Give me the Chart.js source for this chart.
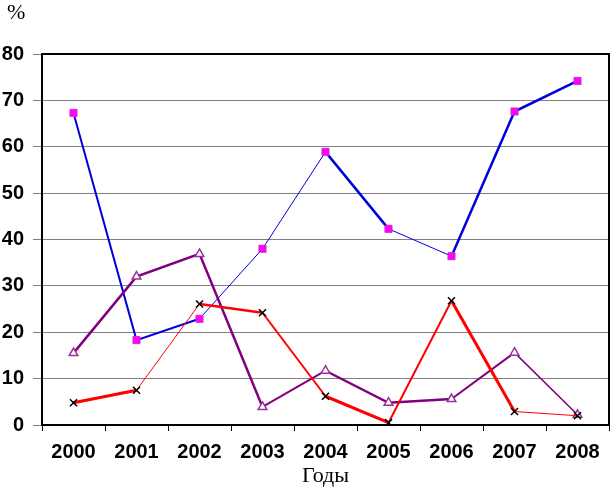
<!DOCTYPE html>
<html>
<head>
<meta charset="utf-8">
<script src="https://cdn.jsdelivr.net/npm/chart.js@4.4.1/dist/chart.umd.min.js"></script>
<style>
  html, body { margin: 0; padding: 0; background: #fff; }
  #wrap { width: 611px; height: 489px; }
</style>
</head>
<body>
<div id="wrap"><canvas id="chart" width="611" height="489"></canvas></div>
<script>
const years = ['2000', '2001', '2002', '2003', '2004', '2005', '2006', '2007', '2008'];
const blueValues = [67.3, 18.3, 22.9, 38, 58.9, 42.3, 36.4, 67.6, 74.2];
const redValues = [4.8, 7.5, 26.1, 24.2, 6.2, 0.5, 26.8, 2.9, 2.0];
const purpleValues = [15.5, 32, 36.9, 3.9, 11.7, 4.8, 5.6, 15.6, 2.2];
const yTicks = [0, 10, 20, 30, 40, 50, 60, 70, 80];

// line widths vary per segment in the original
const blueWidths = [2, 2, 1, 1, 2.5, 1, 2.5, 2.5];
const redWidths = [3, 1, 2.5, 2, 3, 2, 3, 1];
const purpleWidths = [2.5, 2.5, 2.5, 2, 2.5, 2.5, 2, 1.5];

// black box round the plot, and the "%" nudged in from the left edge
const frame = {
    id: 'frame',
    afterLayout(chart) {
        if (chart.titleBlock) chart.titleBlock.left = 7;
    },
    afterDatasetsDraw(chart) {
        const a = chart.chartArea;
        const c = chart.ctx;
        c.save();
        c.strokeStyle = '#000';
        c.lineWidth = 2;
        c.strokeRect(a.left, a.top, a.right - a.left, a.bottom - a.top);
        c.restore();
    }
};

const ctx = document.getElementById('chart').getContext('2d');
const chart = new Chart(ctx, {
    type: 'line',
    data: {
        labels: years,
        datasets: [{
            data: redValues,
            borderColor: '#FF0000',
            pointStyle: 'crossRot',
            pointRadius: 5,
            pointBorderColor: '#000',
            pointBorderWidth: 1.5,
            tension: 0,
            segment: { borderWidth: s => redWidths[s.p0DataIndex] }
        }, {
            data: purpleValues,
            borderColor: '#800080',
            pointStyle: 'triangle',
            pointRadius: 5,
            pointBackgroundColor: '#fff',
            pointBorderColor: '#993399',
            pointBorderWidth: 1.5,
            tension: 0,
            segment: { borderWidth: s => purpleWidths[s.p0DataIndex] }
        }, {
            data: blueValues,
            borderColor: '#0000DD',
            pointStyle: 'rect',
            pointRadius: 5,
            pointBackgroundColor: '#FF00FF',
            pointBorderColor: '#CC33CC',
            pointBorderWidth: 1,
            tension: 0,
            segment: { borderWidth: s => blueWidths[s.p0DataIndex] }
        }]
    },
    options: {
        responsive: false,
        animation: false,
        layout: { autoPadding: false, padding: { left: 0, right: 2, top: 0, bottom: 0 } },
        plugins: {
            legend: { display: false },
            tooltip: { enabled: false },
            title: {
                display: true,
                text: '%',
                align: 'start',
                color: '#000',
                font: { family: 'Liberation Serif, Times New Roman, serif', size: 22, weight: 'normal' },
                padding: { top: 0, bottom: 27.6 }
            }
        },
        scales: {
            x: {
                offset: true,
                afterFit(scale) {
                    scale.height = 64;
                    scale.paddingLeft = 0;
                    scale.paddingRight = 0;
                },
                grid: { offset: true, drawOnChartArea: false, tickLength: 6, tickColor: '#000', tickWidth: 1 },
                border: { color: '#000', width: 2 },
                ticks: {
                    color: '#000',
                    padding: 9,
                    font: { family: 'Liberation Sans, Arial, sans-serif', size: 20, weight: 'bold' }
                },
                title: {
                    display: true,
                    text: 'Годы',
                    color: '#000',
                    padding: { top: 0, bottom: 0 },
                    font: { family: 'Liberation Serif, Times New Roman, serif', size: 22, weight: 'normal' }
                }
            },
            y: {
                min: 0,
                max: 80,
                afterFit(scale) { scale.width = 42; },
                afterBuildTicks(scale) { scale.ticks = yTicks.map(v => ({ value: v })); },
                grid: { color: '#808080', lineWidth: 1, tickLength: 9, tickColor: '#808080' },
                border: { color: '#000', width: 2 },
                ticks: {
                    color: '#000',
                    padding: 9,
                    font: { family: 'Liberation Sans, Arial, sans-serif', size: 20, weight: 'bold' }
                }
            }
        }
    },
    plugins: [frame]
});
</script>
</body>
</html>
